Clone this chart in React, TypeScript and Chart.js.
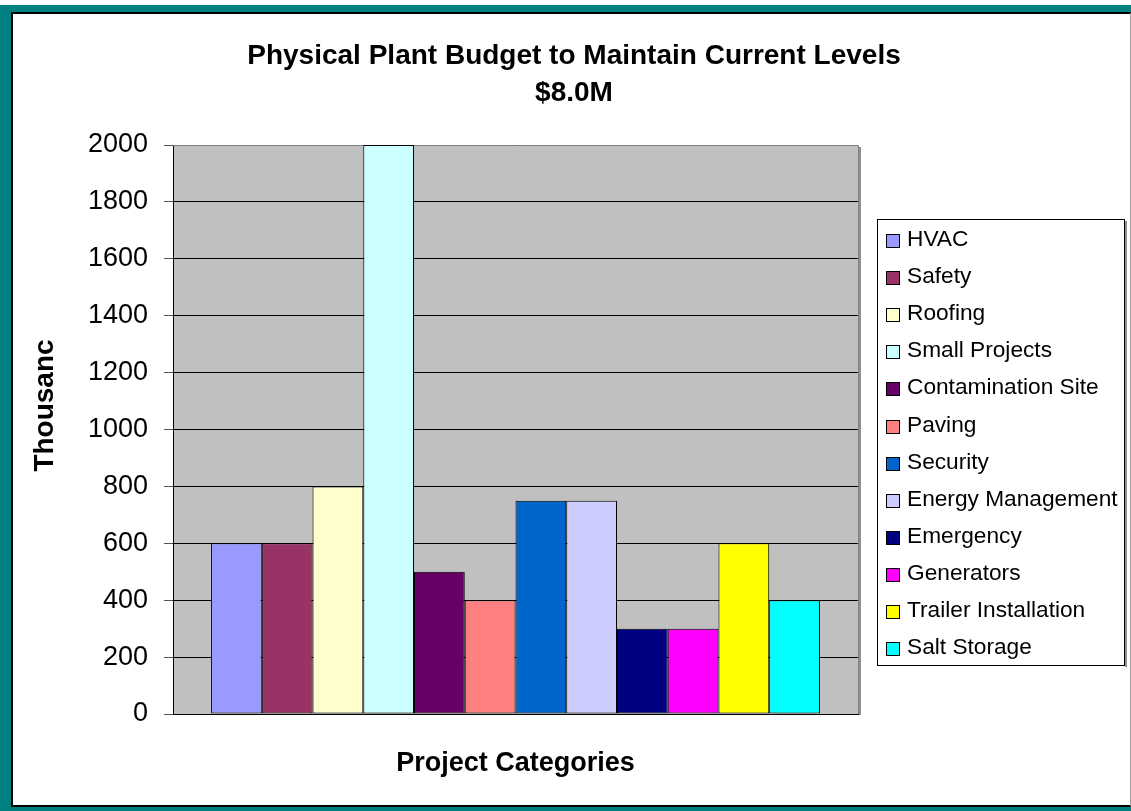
import React, { useEffect, useRef } from 'react';
import { Chart, registerables } from 'chart.js';

Chart.register(...registerables);

const FONT = '"Liberation Sans", Arial, Helvetica, sans-serif';

const categories = [''];
const seriesLabels = [
  'HVAC',
  'Safety',
  'Roofing',
  'Small Projects',
  'Contamination Site',
  'Paving',
  'Security',
  'Energy Management',
  'Emergency',
  'Generators',
  'Trailer Installation',
  'Salt Storage',
];
const seriesValues = [600, 600, 800, 2000, 500, 400, 750, 750, 300, 300, 600, 400];
const seriesColors = [
  '#9999FF',
  '#993366',
  '#FFFFCC',
  '#CCFFFF',
  '#660066',
  '#FF8080',
  '#0066CC',
  '#CCCCFF',
  '#000080',
  '#FF00FF',
  '#FFFF00',
  '#00FFFF',
];
const titleLines = ['Physical Plant Budget to Maintain Current Levels', '$8.0M'];
const yAxisTitle = 'Thousanc';
const xAxisTitle = 'Project Categories';
const yMin = 0;
const yMax = 2000;
const yStep = 200;

const plotBackground = {
  id: 'plotBackground',
  beforeDraw(chart: any) {
    const { ctx, chartArea: a } = chart;
    ctx.save();
    ctx.fillStyle = '#C0C0C0';
    ctx.fillRect(a.left, a.top, a.right - a.left, a.bottom - a.top);
    ctx.restore();
  },
  beforeDatasetsDraw(chart: any) {
    const { ctx, chartArea: a } = chart;
    ctx.save();
    ctx.strokeStyle = '#808080';
    ctx.lineWidth = 1;
    ctx.beginPath();
    ctx.moveTo(a.left, Math.round(a.top) + 0.5);
    ctx.lineTo(Math.round(a.right) + 0.5, Math.round(a.top) + 0.5);
    ctx.lineTo(Math.round(a.right) + 0.5, a.bottom);
    ctx.stroke();
    ctx.lineWidth = 2;
    ctx.strokeStyle = '#909090';
    ctx.beginPath();
    ctx.moveTo(Math.round(a.right) + 2, a.top + 2);
    ctx.lineTo(Math.round(a.right) + 2, a.bottom + 1);
    ctx.stroke();
    ctx.restore();
  },
};

const yTitlePlugin = {
  id: 'yTitlePlugin',
  afterDraw(chart: any) {
    const { ctx, chartArea: a } = chart;
    ctx.save();
    ctx.translate(45, (a.top + a.bottom) / 2 - 24);
    ctx.rotate(-Math.PI / 2);
    ctx.font = `bold 28px ${FONT}`;
    ctx.fillStyle = '#000';
    ctx.textAlign = 'center';
    ctx.textBaseline = 'middle';
    ctx.fillText(yAxisTitle, 0, 0);
    ctx.restore();
  },
};

const boxLegend = {
  id: 'boxLegend',
  afterDraw(chart: any) {
    const { ctx, chartArea: a } = chart;
    const x0 = Math.round(a.right) + 19;
    const y0 = 219;
    const w = 247;
    const h = 446;
    ctx.save();
    ctx.fillStyle = '#FFFFFF';
    ctx.fillRect(x0, y0, w, h);
    ctx.strokeStyle = '#000';
    ctx.lineWidth = 1;
    ctx.strokeRect(x0 + 0.5, y0 + 0.5, w, h);
    ctx.strokeStyle = '#909090';
    ctx.lineWidth = 2;
    ctx.beginPath();
    ctx.moveTo(x0 + w + 2, y0 + 2);
    ctx.lineTo(x0 + w + 2, y0 + h + 2);
    ctx.stroke();
    ctx.font = `22.7px ${FONT}`;
    ctx.textBaseline = 'middle';
    ctx.textAlign = 'left';
    chart.data.datasets.forEach((ds: any, i: number) => {
      const cy = Math.round(y0 + 21 + i * 37.1);
      ctx.fillStyle = ds.backgroundColor;
      ctx.fillRect(x0 + 9, cy - 6, 13, 13);
      ctx.strokeStyle = '#000';
      ctx.lineWidth = 1;
      ctx.strokeRect(x0 + 9.5, cy - 5.5, 13, 13);
      ctx.fillStyle = '#000';
      ctx.fillText(ds.label, x0 + 30, cy);
    });
    ctx.restore();
  },
};

export default function App() {
  const canvasRef = useRef<HTMLCanvasElement | null>(null);

  useEffect(() => {
    if (!canvasRef.current) return;
    const chart = new Chart(canvasRef.current, {
      type: 'bar',
      data: {
        labels: categories,
        datasets: seriesLabels.map((label, i) => ({
          label,
          data: [seriesValues[i]],
          backgroundColor: seriesColors[i],
          borderColor: '#000000',
          borderWidth: 1,
          borderSkipped: false,
          categoryPercentage: 12 / 13.5,
          barPercentage: 1,
        })),
      },
      options: {
        responsive: false,
        animation: false,
        devicePixelRatio: 1,
        layout: { padding: { left: 17, right: 0, top: 0, bottom: 0 } },
        plugins: {
          legend: { display: false },
          tooltip: { enabled: false },
          title: {
            display: true,
            text: titleLines,
            color: '#000',
            font: { family: FONT, size: 28, weight: 'bold', lineHeight: 1.35 },
            padding: { top: 37, bottom: 32.4 },
          },
        },
        scales: {
          x: {
            type: 'category',
            grid: { display: false },
            border: { display: true, color: '#000', width: 1 },
            ticks: { display: false },
            title: {
              display: true,
              text: xAxisTitle,
              color: '#000',
              font: { family: FONT, size: 27, weight: 'bold', lineHeight: 1.2 },
              padding: { top: 0, bottom: 31.5 },
            },
            afterFit(scale: any) {
              scale.height = 97;
            },
          },
          y: {
            type: 'linear',
            min: yMin,
            max: yMax,
            ticks: {
              stepSize: yStep,
              color: '#000',
              font: { family: FONT, size: 27 },
              padding: 16,
              callback: (v: any) => String(v),
            },
            grid: { color: '#000', lineWidth: 1, drawTicks: true, tickLength: 9, tickColor: '#555' },
            border: { display: true, color: '#000', width: 1 },
            afterFit(scale: any) {
              scale.width = 156;
            },
          },
          pad: {
            type: 'linear',
            position: 'right',
            display: true,
            grid: { display: false },
            border: { display: false },
            ticks: { display: false },
            afterFit(scale: any) {
              scale.width = 273;
            },
          },
        },
      } as any,
      plugins: [plotBackground, yTitlePlugin, boxLegend],
    });
    return () => chart.destroy();
  }, []);

  return (
    <div style={{ position: 'absolute', left: 0, top: 0, width: 1131, height: 811, background: '#FFFFFF', overflow: 'hidden' }}>
      <div style={{ position: 'absolute', left: 0, top: 5, width: 1131, height: 806, background: '#008080' }} />
      <div
        style={{
          position: 'absolute',
          left: 11,
          top: 12,
          width: 1120,
          height: 795,
          boxSizing: 'border-box',
          background: '#FFFFFF',
          borderTop: '2px solid #000',
          borderLeft: '2px solid #000',
          borderBottom: '2px solid #000',
          borderRight: '1px solid #A0A0A0',
        }}
      />
      <canvas ref={canvasRef} width={1131} height={811} style={{ position: 'absolute', left: 0, top: 0, width: 1131, height: 811 }} />
    </div>
  );
}
